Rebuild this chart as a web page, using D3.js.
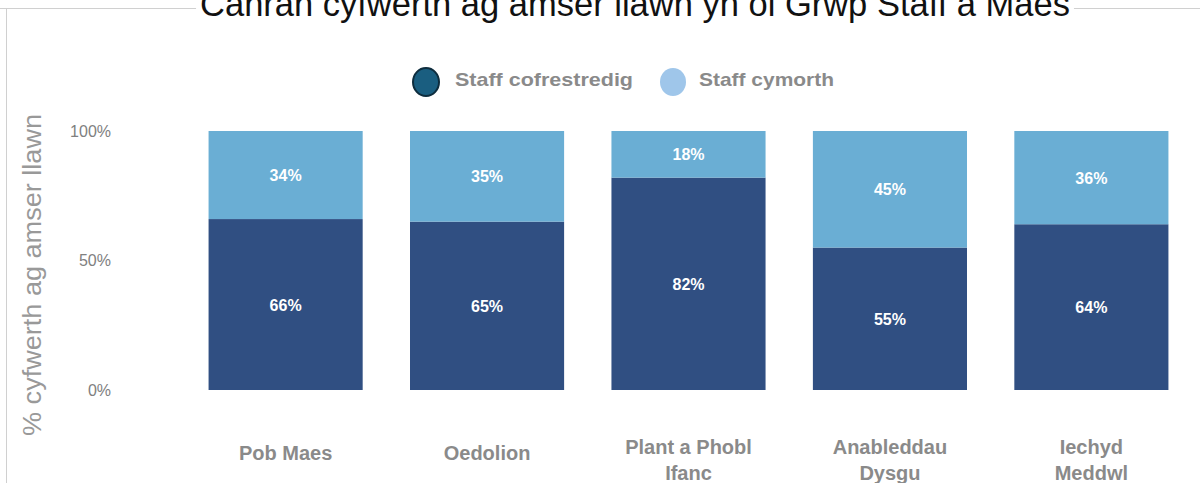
<!DOCTYPE html>
<html><head><meta charset="utf-8">
<script src="https://cdn.jsdelivr.net/npm/d3@7"></script>
<style>body{margin:0;background:#fff}svg{display:block}</style>
</head><body><svg id="c" width="1200" height="483"></svg>
<script>
const categories = [["Pob Maes"], ["Oedolion"], ["Plant a Phobl", "Ifanc"], ["Anableddau", "Dysgu"], ["Iechyd", "Meddwl"]];
const registered = [66, 65, 82, 55, 64];
const support = [34, 35, 18, 45, 36];
const seriesNames = ["Staff cofrestredig", "Staff cymorth"];
const yTicks = [0, 50, 100];

const svg = d3.select("#c");
const font = "'Liberation Sans', Arial, sans-serif";
const grey = "#8a8a8a";

// frame
svg.append("line").attr("x1", 0).attr("x2", 1200).attr("y1", 8.5).attr("y2", 8.5).attr("stroke", "#d0d0d0");
svg.append("line").attr("x1", 6.5).attr("x2", 6.5).attr("y1", 8).attr("y2", 483).attr("stroke", "#d0d0d0");

// title
const title = svg.append("text").attr("x", 635).attr("y", 16).attr("text-anchor", "middle")
  .attr("font-family", font).attr("font-size", 34.5).attr("fill", "#111")
  .text("Canran cyfwerth ag amser llawn yn ôl Grwp Staff a Maes");
const bb = title.node().getBBox();
svg.insert("rect", "text").attr("x", bb.x - 4).attr("y", 0).attr("width", bb.width + 8).attr("height", 14).attr("fill", "#fff");

const keys = categories.map(d => d.join(" "));
const x = d3.scaleBand().domain(keys).range([185, 1192]).paddingInner(0.235).paddingOuter(0.117);
const y = d3.scaleLinear().domain([0, 100]).range([390, 131]);

const stackData = keys.map((k, i) => ({ key: k, reg: registered[i], sup: support[i] }));
const stack = d3.stack().keys(["reg", "sup"])(stackData);
const colors = ["#304f82", "#6aaed4"];

const g = svg.append("g");
stack.forEach((s, si) => {
  g.selectAll(null).data(s).enter().append("rect")
    .attr("x", d => x(d.data.key)).attr("width", x.bandwidth())
    .attr("y", d => y(d[1])).attr("height", d => y(d[0]) - y(d[1]))
    .attr("fill", colors[si]);
  g.selectAll(null).data(s).enter().append("text")
    .attr("x", d => x(d.data.key) + x.bandwidth() / 2)
    .attr("y", d => (y(d[0]) + y(d[1])) / 2 + 6)
    .attr("text-anchor", "middle").attr("font-family", font).attr("font-weight", "bold")
    .attr("font-size", 16).attr("fill", "#fff")
    .text(d => (d[1] - d[0]) + "%");
});

// y axis
const yAxis = d3.axisLeft(y).tickValues(yTicks).tickFormat(d => d + "%").tickSize(0).tickPadding(0);
const ya = svg.append("g").attr("transform", "translate(111,0)").call(yAxis);
ya.select(".domain").remove();
ya.selectAll("text").attr("font-family", font).attr("font-size", 16).attr("fill", "#808080");

svg.append("text").attr("transform", "translate(41,275) rotate(-90)").attr("text-anchor", "middle")
  .attr("font-family", font).attr("font-size", 25).attr("fill", "#999")
  .attr("textLength", 322).attr("lengthAdjust", "spacingAndGlyphs")
  .text("% cyfwerth ag amser llawn");

// x labels
const xl = svg.append("g");
categories.forEach((lines, i) => {
  const cx = x(keys[i]) + x.bandwidth() / 2;
  const t = xl.append("text").attr("text-anchor", "middle").attr("font-family", font)
    .attr("font-weight", "bold").attr("font-size", 20).attr("fill", grey);
  const y0 = lines.length === 1 ? 460 : 454;
  lines.forEach((l, j) => t.append("tspan").attr("x", cx).attr("y", y0 + j * 26).text(l));
});

// legend
const leg = [{ cx: 426, tx: 455, w: 178, fill: "#1a5e80", stroke: "#0e2d3e" }, { cx: 673, tx: 699, w: 135, fill: "#9fc6ea", stroke: "none" }];
leg.forEach((l, i) => {
  svg.append("ellipse").attr("cx", l.cx).attr("cy", 82).attr("rx", 13).attr("ry", 14)
    .attr("fill", l.fill).attr("stroke", l.stroke).attr("stroke-width", 2);
  svg.append("text").attr("x", l.tx).attr("y", 86).attr("font-family", font).attr("font-weight", "bold")
    .attr("font-size", 19).attr("fill", grey)
    .attr("textLength", l.w).attr("lengthAdjust", "spacingAndGlyphs").text(seriesNames[i]);
});
</script></body></html>
